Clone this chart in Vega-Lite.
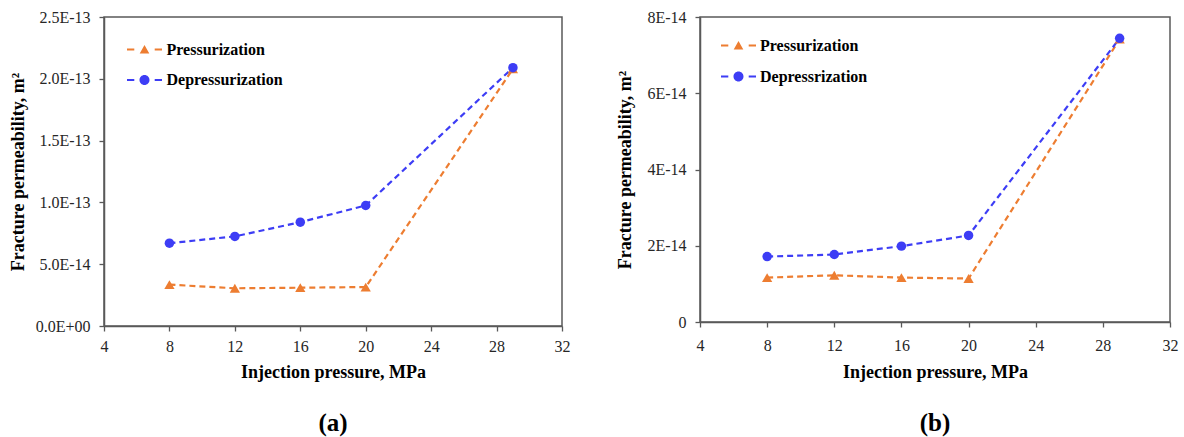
{
  "$schema": "https://vega.github.io/schema/vega-lite/v6.json",
  "padding": {"left": 8, "top": 8, "right": 0, "bottom": 0},
  "background": "white",
  "datasets": {
    "a": [
      {"p": 8, "k": 3.35e-14, "s": "Pressurization"},
      {"p": 12, "k": 3.05e-14, "s": "Pressurization"},
      {"p": 16, "k": 3.1e-14, "s": "Pressurization"},
      {"p": 20, "k": 3.15e-14, "s": "Pressurization"},
      {"p": 29, "k": 2.08e-13, "s": "Pressurization"},
      {"p": 8, "k": 6.7e-14, "s": "Depressurization"},
      {"p": 12, "k": 7.25e-14, "s": "Depressurization"},
      {"p": 16, "k": 8.4e-14, "s": "Depressurization"},
      {"p": 20, "k": 9.75e-14, "s": "Depressurization"},
      {"p": 29, "k": 2.09e-13, "s": "Depressurization"}
    ],
    "b": [
      {"p": 8, "k": 1.165e-14, "s": "Pressurization"},
      {"p": 12, "k": 1.225e-14, "s": "Pressurization"},
      {"p": 16, "k": 1.165e-14, "s": "Pressurization"},
      {"p": 20, "k": 1.14e-14, "s": "Pressurization"},
      {"p": 29, "k": 7.42e-14, "s": "Pressurization"},
      {"p": 8, "k": 1.716e-14, "s": "Depressrization"},
      {"p": 12, "k": 1.77e-14, "s": "Depressrization"},
      {"p": 16, "k": 1.99e-14, "s": "Depressrization"},
      {"p": 20, "k": 2.27e-14, "s": "Depressrization"},
      {"p": 29, "k": 7.44e-14, "s": "Depressrization"}
    ]
  },
  "hconcat": [
    {
      "width": 458,
      "height": 309,
      "data": {"name": "a"},
      "title": {"text": "(a)", "orient": "bottom", "anchor": "middle", "fontSize": 25, "fontWeight": "bold", "font": "Liberation Serif", "color": "black", "offset": 30},
      "encoding": {
        "x": {"field": "p", "type": "quantitative", "scale": {"domain": [4, 32], "nice": false, "zero": false},
          "axis": {"values": [4, 8, 12, 16, 20, 24, 28, 32], "title": "Injection pressure, MPa", "labelPadding": 7, "titlePadding": 9}},
        "y": {"field": "k", "type": "quantitative", "scale": {"domain": [0, 2.5e-13], "nice": false},
          "axis": {"values": [0, 5e-14, 1e-13, 1.5e-13, 2e-13, 2.5e-13], "labelExpr": "datum.value == 0 ? '0.0E+00' : upper(format(datum.value, '.1e'))", "title": "Fracture permeability, m²", "labelPadding": 9, "titlePadding": 8}},
        "color": {"field": "s", "type": "nominal",
          "scale": {"domain": ["Pressurization", "Depressurization"], "range": ["#ED7D31", "#3D3DF5"]},
          "legend": {"title": null, "orient": "none", "legendX": 30.5, "legendY": 22.5, "padding": 0, "symbolSize": 400, "symbolStrokeWidth": 0,
            "labelFont": "Liberation Serif", "labelFontSize": 16, "labelFontWeight": "bold", "labelColor": "black", "labelOffset": 12, "rowPadding": 12.5,
            "encode": {"symbols": {"update": {
              "shape": {"signal": "datum.value === 'Pressurization' ? 'M-1.75,-0.09H-1.02V0.09H-1.75Z M1.02,-0.09H1.75V0.09H1.02Z M-0.48,0.4L0,-0.46L0.48,0.4Z' : 'M-1.75,-0.09H-1.02V0.09H-1.75Z M1.02,-0.09H1.75V0.09H1.02Z M-0.5,0A0.5,0.5 0 1,0 0.5,0A0.5,0.5 0 1,0 -0.5,0Z'"},
              "fill": {"signal": "datum.value === 'Pressurization' ? '#ED7D31' : '#3D3DF5'"},
              "stroke": {"value": "transparent"},
              "opacity": {"value": 1}
            }}}}
        }
      },
      "layer": [
        {"mark": {"type": "line", "strokeDash": [6, 4], "strokeWidth": 2.2}},
        {"transform": [{"filter": "datum.s === 'Pressurization'"}], "mark": {"type": "point", "filled": true, "size": 105, "opacity": 1, "shape": "triangle-up"}},
        {"transform": [{"filter": "datum.s !== 'Pressurization'"}], "mark": {"type": "point", "filled": true, "size": 90, "opacity": 1, "shape": "circle"}}
      ]
    },
    {
      "width": 470,
      "height": 305,
      "data": {"name": "b"},
      "title": {"text": "(b)", "orient": "bottom", "anchor": "middle", "fontSize": 25, "fontWeight": "bold", "font": "Liberation Serif", "color": "black", "offset": 30},
      "encoding": {
        "x": {"field": "p", "type": "quantitative", "scale": {"domain": [4, 32], "nice": false, "zero": false},
          "axis": {"values": [4, 8, 12, 16, 20, 24, 28, 32], "title": "Injection pressure, MPa", "labelPadding": 10, "titlePadding": 10}},
        "y": {"field": "k", "type": "quantitative", "scale": {"domain": [0, 8e-14], "nice": false},
          "axis": {"values": [0, 2e-14, 4e-14, 6e-14, 8e-14], "labelExpr": "datum.value == 0 ? '0' : upper(format(datum.value, '.0e'))", "title": "Fracture permeability, m²", "labelPadding": 9, "titlePadding": 12}},
        "color": {"field": "s", "type": "nominal",
          "scale": {"domain": ["Pressurization", "Depressrization"], "range": ["#ED7D31", "#3D3DF5"]},
          "legend": {"title": null, "orient": "none", "legendX": 28.5, "legendY": 18.5, "padding": 0, "symbolSize": 400, "symbolStrokeWidth": 0,
            "labelFont": "Liberation Serif", "labelFontSize": 16, "labelFontWeight": "bold", "labelColor": "black", "labelOffset": 11.5, "rowPadding": 13,
            "encode": {"symbols": {"update": {
              "shape": {"signal": "datum.value === 'Pressurization' ? 'M-1.75,-0.09H-1.02V0.09H-1.75Z M1.02,-0.09H1.75V0.09H1.02Z M-0.48,0.4L0,-0.46L0.48,0.4Z' : 'M-1.75,-0.09H-1.02V0.09H-1.75Z M1.02,-0.09H1.75V0.09H1.02Z M-0.5,0A0.5,0.5 0 1,0 0.5,0A0.5,0.5 0 1,0 -0.5,0Z'"},
              "fill": {"signal": "datum.value === 'Pressurization' ? '#ED7D31' : '#3D3DF5'"},
              "stroke": {"value": "transparent"},
              "opacity": {"value": 1}
            }}}}
        }
      },
      "layer": [
        {"mark": {"type": "line", "strokeDash": [6, 4], "strokeWidth": 2.2}},
        {"transform": [{"filter": "datum.s === 'Pressurization'"}], "mark": {"type": "point", "filled": true, "size": 105, "opacity": 1, "shape": "triangle-up"}},
        {"transform": [{"filter": "datum.s !== 'Pressurization'"}], "mark": {"type": "point", "filled": true, "size": 90, "opacity": 1, "shape": "circle"}}
      ]
    }
  ],
  "spacing": 45,
  "resolve": {"scale": {"x": "independent", "y": "independent", "color": "independent"}, "legend": {"color": "independent"}},
  "config": {
    "font": "Liberation Serif",
    "view": {"stroke": "#595959", "strokeWidth": 1.5},
    "axis": {"grid": false, "domainColor": "#595959", "domainWidth": 1.5, "tickColor": "#595959", "tickWidth": 1.3, "tickSize": 5,
      "labelFont": "Liberation Serif", "labelFontSize": 16, "labelColor": "#262626", "labelFlush": false, "labelOverlap": false,
      "titleFont": "Liberation Serif", "titleFontSize": 18, "titleFontWeight": "bold", "titleColor": "black"}
  }
}
